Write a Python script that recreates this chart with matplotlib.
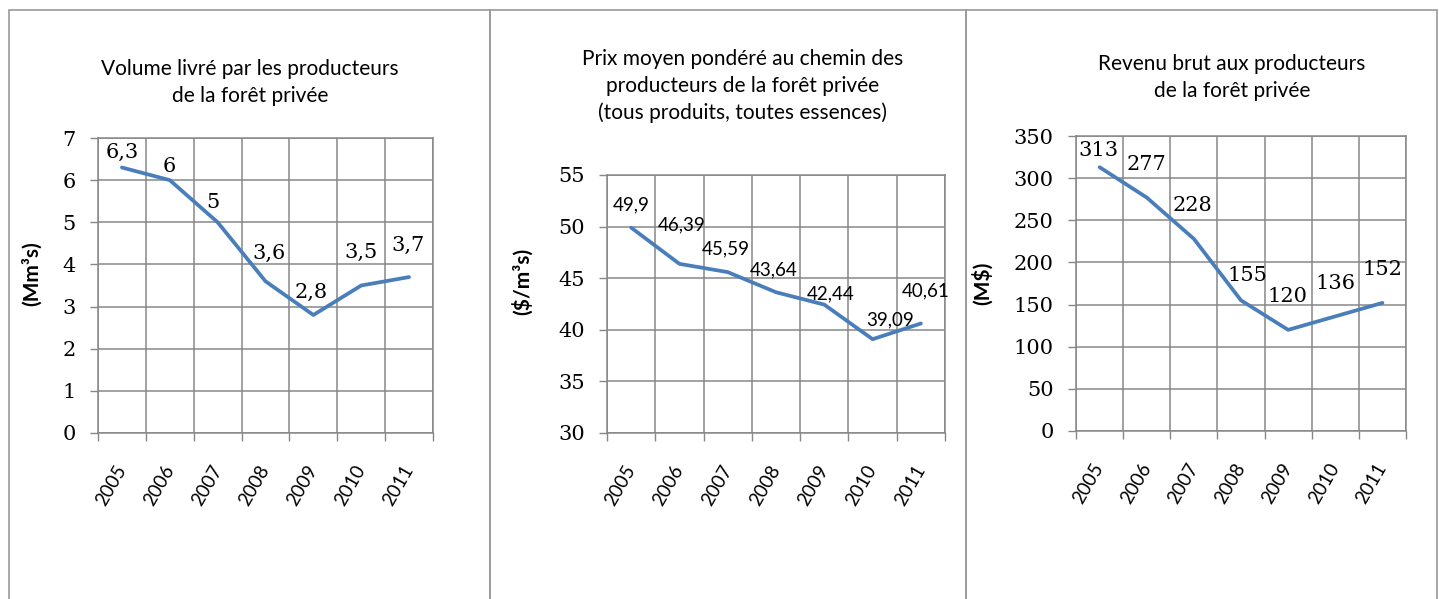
import numpy as np
import matplotlib
matplotlib.use("Agg")
import matplotlib.pyplot as plt
from matplotlib.patches import Rectangle

years = ["2005", "2006", "2007", "2008", "2009", "2010", "2011"]

volume = [6.3, 6, 5, 3.6, 2.8, 3.5, 3.7]
volume_lbl = ["6,3", "6", "5", "3,6", "2,8", "3,5", "3,7"]

prix = [49.9, 46.39, 45.59, 43.64, 42.44, 39.09, 40.61]
prix_lbl = ["49,9", "46,39", "45,59", "43,64", "42,44", "39,09", "40,61"]

revenu = [313, 277, 228, 155, 120, 136, 152]
revenu_lbl = ["313", "277", "228", "155", "120", "136", "152"]

W, H = 1439, 599
BLUE = "#4a7ebb"
GRID = "#878787"
BORDER = "#9a9a9a"

fig = plt.figure(figsize=(W / 100, H / 100), dpi=100)
fig.patch.set_facecolor("white")

def px_rect(x0, y0, x1, y1):
    # pixel box (top-left origin) -> figure fraction
    return [x0 / W, 1 - y1 / H, (x1 - x0) / W, (y1 - y0) / H]

# panel frames
for x0, x1 in [(9, 490), (490, 966), (966, 1437)]:
    fig.add_artist(Rectangle((x0 / W, -0.05), (x1 - x0) / W, 1.05 - 10 / H,
                             transform=fig.transFigure, fill=False,
                             edgecolor=BORDER, lw=1.2))


def panel(box, vals, lbls, ylim, ystep, dx, dy, lab_font, lab_size):
    ax = fig.add_axes(px_rect(*box))
    x = np.arange(len(vals))
    ax.plot(x, vals, color=BLUE, lw=2.7, solid_capstyle="round", zorder=3)
    ax.set_xlim(-0.5, len(vals) - 0.5)
    ax.set_ylim(*ylim)
    ax.set_yticks(np.arange(ylim[0], ylim[1] + ystep / 2, ystep))
    ax.set_xticks(np.arange(-0.5, len(vals)), labels=[])
    ax.set_xticks(x, minor=True)
    ax.set_xticklabels(years, minor=True, rotation=60, ha="right", va="center",
                       rotation_mode="anchor", fontsize=13.5, family="Lato")
    ax.tick_params(axis="x", which="minor", length=0, pad=24)
    ax.tick_params(axis="x", which="major", length=6, width=1, color=GRID, direction="out")
    ax.tick_params(axis="y", length=6, width=1, color=GRID, direction="out", pad=10,
                   labelsize=15)
    for t in ax.get_yticklabels():
        t.set_family("DejaVu Serif")
    ax.grid(True, which="major", color=GRID, lw=1.1)
    ax.set_axisbelow(True)
    for s in ax.spines.values():
        s.set_color(GRID)
        s.set_linewidth(1.1)
    for i, (v, l) in enumerate(zip(vals, lbls)):
        ax.annotate(l, (i, v), xytext=(dx[i], dy[i]), textcoords="offset pixels",
                    ha="center", va="center", fontsize=lab_size, family=lab_font,
                    zorder=4, annotation_clip=False)
    return ax


panel((98, 138, 433, 433), volume, volume_lbl, (0, 7), 1,
      [0, -1, -5, 4, -2, 0, -1], [15, 14, 20, 28, 23, 33, 32], "DejaVu Serif", 15)
panel((607, 175, 945, 433), prix, prix_lbl, (30, 55), 5,
      [0, 2, -2, -2, 6, 18, 5], [23, 39, 23, 22, 11, 19, 33], "Lato", 13.5)
panel((1076, 136, 1406, 431), revenu, revenu_lbl, (0, 350), 50,
      [-1, 0, -1, 6, -1, 0, 0], [17, 33, 33, 25, 33, 33, 33], "DejaVu Serif", 15)

# titles
tkw = dict(ha="center", va="center", fontsize=15, family="Lato", linespacing=1.4)
fig.text(250 / W, 1 - 82.5 / H, "Volume livré par les producteurs\nde la forêt privée", **tkw)
fig.text(743 / W, 1 - 86 / H,
         "Prix moyen pondéré au chemin des\nproducteurs de la forêt privée\n(tous produits, toutes essences)",
         **tkw)
fig.text(1232 / W, 1 - 77.5 / H, "Revenu brut aux producteurs\nde la forêt privée", **tkw)

# axis units
ukw = dict(rotation=90, ha="center", va="center", fontsize=15, family="Lato",
           fontweight="bold")
fig.text(32 / W, 1 - 274 / H, "(Mm³s)", **ukw)
fig.text(522 / W, 1 - 281 / H, "($/m³s)", **ukw)
fig.text(982 / W, 1 - 283 / H, "(M$)", **ukw)

fig.savefig("out.png", dpi=100)
